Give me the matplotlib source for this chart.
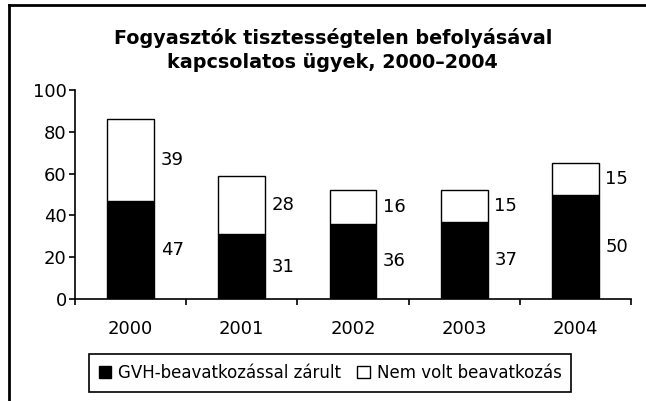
import numpy as np
import matplotlib.pyplot as plt
from matplotlib.lines import Line2D

plt.rcParams['font.family'] = ['DejaVu Sans']

years = ['2000', '2001', '2002', '2003', '2004']
gvh = [47, 31, 36, 37, 50]          # GVH-beavatkozással zárult
nem = [39, 28, 16, 15, 15]          # Nem volt beavatkozás

fig = plt.figure(figsize=(6.46, 4.01), dpi=100)
ax = fig.add_axes([75/646, 1 - 299/401, (631 - 75)/646, (299 - 90)/401])

x = np.arange(len(years))
w = 0.42
b1 = ax.bar(x, gvh, w, color='black', edgecolor='black', linewidth=1,
            label='GVH-beavatkozással zárult')
b2 = ax.bar(x, nem, w, bottom=gvh, color='white', edgecolor='black', linewidth=1,
            label='Nem volt beavatkozás')

# értékcímkék az oszlopok mellett
for i in range(len(years)):
    ax.text(x[i] + w/2 + 0.06, gvh[i] / 2, str(gvh[i]), va='center', ha='left', fontsize=13)
    ax.text(x[i] + w/2 + 0.06, gvh[i] + nem[i] / 2, str(nem[i]), va='center', ha='left', fontsize=13)

ax.set_xlim(-0.5, len(years) - 0.5)
ax.set_ylim(0, 100)
ax.set_yticks(range(0, 101, 20))
ax.set_xticks(x)
ax.set_xticklabels(years)
ax.set_xticks(np.arange(-0.5, len(years)), minor=True)
ax.tick_params(axis='x', which='major', length=0, pad=15, labelsize=13)
ax.tick_params(axis='x', which='minor', length=4, width=1.2, direction='out')
ax.tick_params(axis='y', length=4, width=1.2, direction='out', labelsize=13, pad=2)
for s in ['top', 'right']:
    ax.spines[s].set_visible(False)
for s in ['left', 'bottom']:
    ax.spines[s].set_linewidth(1.2)

fig.text(0.515, 1 - 50/401, 'Fogyasztók tisztességtelen befolyásával\nkapcsolatos ügyek, 2000–2004',
         ha='center', va='center', fontsize=13.8, fontweight='bold', linespacing=1.35)

leg = fig.legend(handles=[b1, b2], loc='center', bbox_to_anchor=(330/646, 1 - 373/401),
                 ncol=2, fontsize=12, frameon=True, fancybox=False, framealpha=1,
                 edgecolor='black', handlelength=0.75, handleheight=0.75,
                 handletextpad=0.4, columnspacing=1.0, borderpad=0.6)
leg.get_frame().set_linewidth(1.2)

# keret a bal és felső oldalon
fig.add_artist(Line2D([9/646, 9/646], [0, 1 - 5/401], transform=fig.transFigure, color='black', lw=2))
fig.add_artist(Line2D([9/646, 1], [1 - 5/401, 1 - 5/401], transform=fig.transFigure, color='black', lw=2))

fig.savefig('out.png', dpi=100)
